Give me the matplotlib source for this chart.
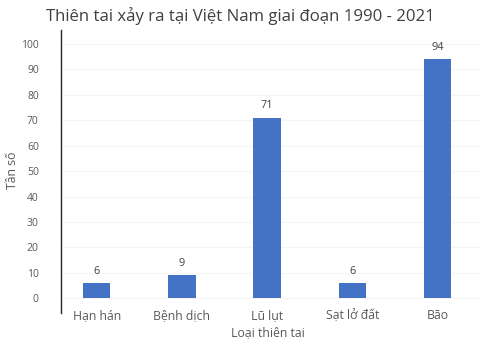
import matplotlib
matplotlib.use("Agg")
import matplotlib.pyplot as plt

categories = ["Hạn hán", "Bệnh dịch", "Lũ lụt", "Sạt lở đất", "Bão"]
values = [6, 9, 71, 6, 94]
yticks = [0, 10, 20, 30, 40, 50, 60, 70, 80, 90, 100]

plt.rcParams['font.family'] = ['Open Sans', 'DejaVu Sans']

fig = plt.figure(figsize=(4.85, 3.46), dpi=100)
ax = fig.add_axes([61/485, 1-313/346, (480-61)/485, (313-30)/346])

x = list(range(len(categories)))
ax.bar(x, values, width=0.32, color="#4472C4", zorder=3)
for xi, v in zip(x, values):
    ax.text(xi, v + 2.5, str(v), ha="center", va="bottom", fontsize=7.8, color="#404040")

ax.set_xlim(-0.42, 4.5)
ax.set_ylim(-5.8, 105.5)
ax.set_yticks(yticks)
ax.set_xticks(x)
ax.set_xticklabels(categories)
ax.tick_params(axis="y", length=0, colors="#595959", labelsize=7.5, pad=16)
ax.tick_params(axis="x", length=0, colors="#595959", labelsize=8.8, pad=-3)
ax.grid(axis="y", color="#f5f5f5", linewidth=0.8, zorder=0)
for s in ["top", "right", "bottom"]:
    ax.spines[s].set_visible(False)
ax.spines["left"].set_color("#262626")
ax.spines["left"].set_linewidth(1.0)

fig.text(13/485, 1-170/346, "Tần số", rotation=90, ha="center", va="center",
         fontsize=8.8, color="#595959")
fig.text(268/485, 1-333/346, "Loại thiên tai", ha="center", va="center",
         fontsize=8.8, color="#595959")
fig.text(240/485, 1-16/346, "Thiên tai xảy ra tại Việt Nam giai đoạn 1990 - 2021",
         ha="center", va="center", fontsize=12.1, color="#404040")

fig.savefig("out.png", dpi=100)
